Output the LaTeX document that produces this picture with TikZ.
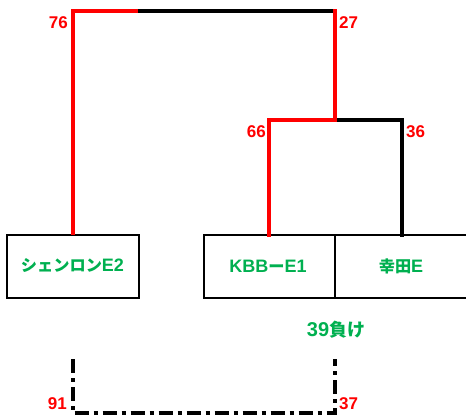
\documentclass[tikz,border=0pt]{standalone}
\usepackage{fontspec}
\setmainfont{Liberation Sans}
\newfontfamily\jpfont{Noto Sans CJK JP Bold}[Scale=0.9]
\definecolor{lblred}{RGB}{255,0,0}
\definecolor{txtgreen}{RGB}{0,176,80}
\tikzset{
  winline/.style={line width=4pt, lblred},
  loseline/.style={line width=4pt, black},
  boxline/.style={line width=2pt, black},
  ddline/.style={line width=4pt, black, dash pattern=on 14pt off 5pt on 4pt off 5pt},
  score/.style={font=\bfseries\fontsize{17}{17}\selectfont, text=lblred, inner sep=0pt},
  team/.style={font=\bfseries\fontsize{18}{18}\selectfont, text=txtgreen, inner sep=0pt},
  note/.style={font=\bfseries\fontsize{20}{20}\selectfont, text=txtgreen, inner sep=0pt}
}
\begin{document}
\begin{tikzpicture}[x=1pt,y=-1pt]
\useasboundingbox (0,0) rectangle (466,416);
% boxes
\draw[boxline] (7,235) rectangle (139,298);
\draw[boxline] (466,235) -- (204,235) -- (204,298) -- (466,298);
\draw[boxline] (335,235) -- (335,298);
\node[team] (t1) at (72.5,265) {{\jpfont シェンロン}E2};
\node[team] (t2) at (268,266) {KBB{\jpfont ー}E1};
\node[team] (t3) at (401,266) {{\jpfont 幸田}E};
% bracket coordinates
\coordinate (a1) at (72.5,235);
\coordinate (a2) at (72.5,11);
\coordinate (am) at (138,11);
\coordinate (a3) at (335,11);
\coordinate (a4) at (335,120);
\coordinate (b1) at (269,235);
\coordinate (b2) at (269,120);
\coordinate (b3) at (401.5,120);
\coordinate (b4) at (401.5,235);
\draw[loseline, line cap=rect] (am) -- (a3) -- (a4) -- (b3) -- (b4);
\draw[winline, line cap=rect] (b1) -- (b2) -- (a4) -- (a3);
\draw[winline] (a1) -- (a2) -- (am);
% scores
\node[score, anchor=east] (s76) at (68,23) {76};
\node[score, anchor=west] (s27) at (339,23) {27};
\node[score, anchor=east] (s66) at (266,132) {66};
\node[score, anchor=west] (s36) at (406,132) {36};
\node[note] (n39) at (336,330) {39{\jpfont 負け}};
% dash-dot bracket
\coordinate (c1) at (72.5,359);
\coordinate (c2) at (72.5,413);
\coordinate (c3) at (335,413);
\coordinate (c4) at (335,359);
\draw[ddline] (c1) -- (c2) -- (c3) -- (c4);
\node[score, anchor=east] (s91) at (67,404) {91};
\node[score, anchor=west] (s37) at (339,404) {37};
\end{tikzpicture}
\end{document}
